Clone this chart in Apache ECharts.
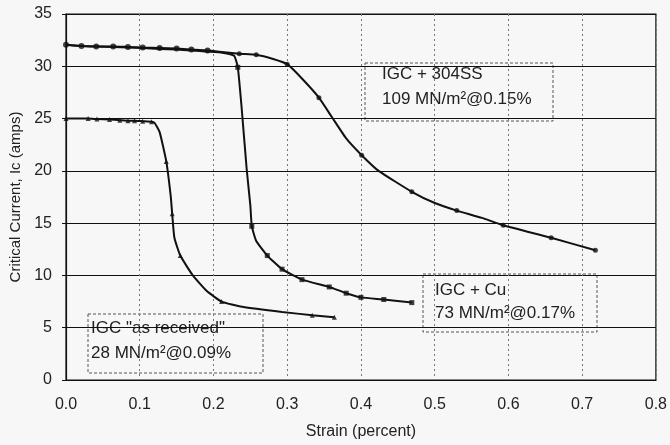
<!DOCTYPE html>
<html>
<head>
<meta charset="utf-8">
<script src="https://cdn.jsdelivr.net/npm/echarts@6/dist/echarts.min.js"></script>
<style>
html,body{margin:0;padding:0;background:#f7f7f7;}
#c{width:670px;height:445px;}
</style>
</head>
<body>
<div id="c"></div>
<script>
const xTicks = [0.0, 0.1, 0.2, 0.3, 0.4, 0.5, 0.6, 0.7, 0.8];
const yTicks = [0, 5, 10, 15, 20, 25, 30, 35];

// traced curves
const ssCurve = [[0,32.05],[0.021,31.95],[0.041,31.9],[0.064,31.9],[0.084,31.85],[0.104,31.8],[0.127,31.75],[0.150,31.7],[0.170,31.6],[0.192,31.5],[0.208,31.4],[0.235,31.2],[0.258,31.1],[0.281,30.7],[0.300,30.2],[0.319,28.9],[0.343,27.0],[0.361,25.1],[0.380,23.1],[0.401,21.5],[0.424,20.0],[0.469,18.0],[0.501,16.9],[0.530,16.2],[0.564,15.5],[0.593,14.8],[0.658,13.6],[0.718,12.4]];
const cuCurve = [[0,32.05],[0.021,31.95],[0.041,31.9],[0.064,31.85],[0.084,31.8],[0.104,31.75],[0.127,31.65],[0.150,31.6],[0.170,31.5],[0.192,31.4],[0.212,31.3],[0.228,31.0],[0.233,29.9],[0.238,26.2],[0.245,20.2],[0.250,16.7],[0.252,14.7],[0.258,13.3],[0.273,11.9],[0.293,10.6],[0.320,9.6],[0.357,8.9],[0.380,8.3],[0.400,7.9],[0.431,7.7],[0.469,7.4]];
const arCurve = [[0,25.0],[0.030,25.0],[0.042,24.95],[0.059,24.9],[0.073,24.85],[0.084,24.8],[0.093,24.8],[0.104,24.75],[0.116,24.7],[0.120,24.6],[0.127,23.7],[0.136,20.9],[0.142,17.6],[0.144,15.9],[0.147,13.6],[0.155,11.9],[0.172,10.0],[0.191,8.5],[0.211,7.5],[0.239,7.0],[0.293,6.5],[0.334,6.2],[0.364,6.0]];

// measured points (markers)
const topMarks = [[0,32.05],[0.021,31.95],[0.041,31.9],[0.064,31.9],[0.084,31.85],[0.104,31.8],[0.127,31.75],[0.150,31.7],[0.170,31.6],[0.192,31.5]];
const ssMarks = [[0.235,31.2],[0.258,31.1],[0.300,30.2],[0.343,27.0],[0.401,21.5],[0.469,18.0],[0.530,16.2],[0.593,14.8],[0.658,13.6],[0.718,12.4]];
const cuMarks = [[0.233,29.9],[0.252,14.7],[0.273,11.9],[0.293,10.6],[0.320,9.6],[0.357,8.9],[0.380,8.3],[0.400,7.9],[0.431,7.7],[0.469,7.4]];
const arMarks = [[0,25.0],[0.030,25.0],[0.042,24.95],[0.059,24.9],[0.073,24.85],[0.084,24.8],[0.093,24.8],[0.104,24.75],[0.116,24.7],[0.136,20.9],[0.144,15.9],[0.155,11.9],[0.211,7.5],[0.334,6.2],[0.364,6.0]];

const boxTexts = [
  ['IGC + 304SS', '109 MN/m\u00B2@0.15%'],
  ['IGC + Cu', '73 MN/m\u00B2@0.17%'],
  ['IGC "as received"', '28 MN/m\u00B2@0.09%']
];

const chart = echarts.init(document.getElementById('c'));
const font = 'Liberation Sans, Arial, Helvetica, sans-serif';
function curve(name, data) {
  return {name, type:'line', data, smooth:0.15, symbol:'none',
    lineStyle:{color:'#111', width:2}, z:3};
}
function marks(name, data, sym, size) {
  return {name, type:'scatter', data, symbol:sym, symbolSize:size,
    itemStyle:{color:'#111'}, z:4};
}
// box layout: [left, top, width, height, textDx, line1Dy, line2Dy]
const boxLayout = [
  [365, 63, 188, 58, 17, 11, 36],
  [423, 274, 174, 58, 12, 16, 39],
  [88, 314, 175, 59, 3, 14, 39]
];
chart.setOption({
  backgroundColor:'#f7f7f7',
  animation:false,
  grid:{left:66, right:12, top:14, bottom:62, show:true, borderColor:'#111', borderWidth:1.2, backgroundColor:'transparent'},
  xAxis:{
    type:'value', min:xTicks[0], max:xTicks[xTicks.length-1], interval:0.1,
    name:'Strain (percent)', nameLocation:'middle', nameGap:44,
    nameTextStyle:{fontFamily:font, fontSize:16, color:'#222'},
    axisLine:{show:true, lineStyle:{color:'#111', width:1.2}},
    axisTick:{show:false},
    axisLabel:{fontFamily:font, fontSize:16, color:'#222', margin:17, formatter:v=>v.toFixed(1)},
    splitLine:{show:true, lineStyle:{color:'#777', type:[2,3], width:1}}
  },
  yAxis:{
    type:'value', min:yTicks[0], max:yTicks[yTicks.length-1], interval:5,
    name:'Critical Current, Ic (amps)', nameLocation:'middle', nameGap:38,
    nameTextStyle:{fontFamily:font, fontSize:15, color:'#222'},
    axisLine:{show:true, lineStyle:{color:'#111', width:1.2}},
    axisTick:{show:true, length:4, lineStyle:{color:'#111'}},
    axisLabel:{fontFamily:font, fontSize:16, color:'#222', margin:14},
    splitLine:{show:true, lineStyle:{color:'#111', width:1.2}}
  },
  series:[
    curve('IGC + 304SS', ssCurve),
    curve('IGC + Cu', cuCurve),
    curve('IGC "as received"', arCurve),
    marks('top', topMarks, 'circle', 6),
    marks('IGC + 304SS pts', ssMarks, 'circle', 5),
    marks('IGC + Cu pts', cuMarks, 'rect', 5),
    marks('IGC "as received" pts', arMarks, 'triangle', 5)
  ],
  graphic: boxTexts.map((t, i) => {
    const b = boxLayout[i];
    return {
      type:'group', z:10,
      children:[
        {type:'rect', shape:{x:b[0], y:b[1], width:b[2], height:b[3]}, style:{fill:'#f7f7f7', stroke:'#555', lineWidth:1, lineDash:[3,2]}},
        {type:'text', style:{x:b[0]+b[4], y:b[1]+b[5], text:t[0], font:'17px '+font, fill:'#222', textVerticalAlign:'middle'}},
        {type:'text', style:{x:b[0]+b[4], y:b[1]+b[6], text:t[1], font:'17px '+font, fill:'#222', textVerticalAlign:'middle'}}
      ]
    };
  })
});
</script>
</body>
</html>
